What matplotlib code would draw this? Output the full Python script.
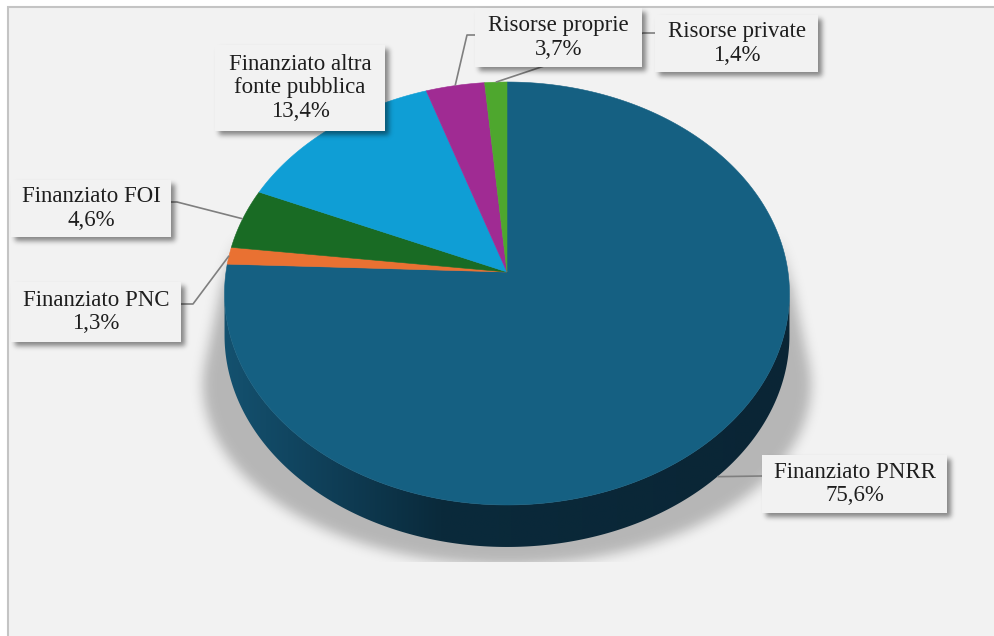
import numpy as np
import matplotlib
matplotlib.use("Agg")
import matplotlib.pyplot as plt
from matplotlib.patches import Polygon, Rectangle

# ---------------- data ----------------
labels = ["Finanziato PNRR", "Finanziato PNC", "Finanziato FOI",
          "Finanziato altra\nfonte pubblica", "Risorse proprie", "Risorse private"]
values = [75.6, 1.3, 4.6, 13.4, 3.7, 1.4]
colors = ["#156082", "#E97132", "#196B24", "#0F9ED5", "#A02B93", "#4EA72E"]

# ---------------- layout ----------------
W, H = 994, 636
fig = plt.figure(figsize=(W / 100, H / 100), dpi=100, facecolor="white")
ax = fig.add_axes([0, 0, 1, 1])
ax.set_xlim(0, W)
ax.set_ylim(H, 0)
ax.axis("off")

# chart area frame
ax.add_patch(Rectangle((8, 7), 1010, 650, facecolor="#f2f2f2",
                       edgecolor="#c4c4c4", lw=1.5, zorder=0))

# perspective projection of the pie disc
CX, CY, A, B, E = 507.0, 272.0, 281.0, 209.3, 0.1016
DEPTH = 42.0


def proj(theta_deg, r=1.0):
    t = np.radians(theta_deg)
    u, v = r * np.cos(t), r * np.sin(t)
    den = 1 + E * v
    return CX + A * u / den, CY - B * v / den


yy, xx = np.mgrid[0:H, 0:W] + 0.5


def blur(img, sigma):
    ky = np.fft.fftfreq(img.shape[0])
    kx = np.fft.rfftfreq(img.shape[1])
    G = np.exp(-2 * (np.pi * sigma) ** 2 * (ky[:, None] ** 2 + kx[None, :] ** 2))
    return np.fft.irfft2(np.fft.rfft2(img) * G, s=img.shape)


# ---- pie drop shadow ----
mask = np.zeros((H, W), bool)
for t in np.linspace(0, 1, 50):
    cyt = 290 + t * (385 - 290)
    rxt = 282.5 + t * (304 - 282.5)
    ryt = 211.5 + t * (180 - 211.5)
    mask |= ((xx - 507) / rxt) ** 2 + ((yy - cyt) / ryt) ** 2 <= 1
alpha = blur(mask.astype(float), 6) * 0.25
alpha *= np.clip((yy - 230) / 60, 0, 1)
alpha[yy > 562] = 0
sh = np.zeros((H, W, 4))
sh[..., 3] = np.clip(alpha, 0, 1)
ax.imshow(sh, extent=[0, W, H, 0], zorder=1, interpolation="nearest", aspect="auto")

# ---- side of the cylinder ----
th1 = 180 + np.degrees(np.arcsin(E))
th2 = 360 - np.degrees(np.arcsin(E))
ts = np.linspace(th1, th2, 300)
tx, ty = proj(ts)
side_pts = np.vstack([np.column_stack([tx, ty]),
                      np.column_stack([tx[::-1], ty[::-1] + DEPTH])])
side_patch = Polygon(side_pts, closed=True, facecolor="none", edgecolor="none", zorder=2)
ax.add_patch(side_patch)
gx = np.linspace(220, 795, 400)
stops_x = [220, 310, 440, 795]
stops_c = np.array([[0x14, 0x52, 0x70], [0x10, 0x42, 0x5c], [0x0a, 0x2a, 0x3b], [0x0a, 0x25, 0x35]]) / 255
grad = np.stack([np.interp(gx, stops_x, stops_c[:, k]) for k in range(3)], axis=-1)
grad = np.repeat(grad[None, :, :], 2, axis=0)
im = ax.imshow(grad, extent=[220, 795, 570, 280], zorder=2, aspect="auto", interpolation="bilinear")
im.set_clip_path(side_patch)

# ---- top slices ----
start = 90.0
mids = []
for val, col in zip(values, colors):
    span = 360.0 * val / sum(values)
    ang = np.linspace(start, start - span, max(int(span * 2), 4))
    ax_, ay_ = proj(ang)
    pts = np.vstack([[CX, CY], np.column_stack([ax_, ay_])])
    ax.add_patch(Polygon(pts, closed=True, facecolor=col, edgecolor=col, lw=0.4, zorder=3))
    mids.append(start - span / 2)
    start -= span

# ---- labels ----
boxes = [  # x0, y0, x1, y1
    (762, 455, 947, 513),
    (11, 282, 181, 342),
    (11, 180, 171, 237),
    (215, 45, 385, 131),
    (475, 8, 642, 67),
    (655, 15, 818, 72),
]
elbows = [
    [(762, 476)],
    [(181, 304), (193, 304)],
    [(171, 202), (177, 202)],
    None,
    [(475, 35), (467, 35)],
    [(655, 33), (643, 33)],
]

bmask = np.zeros((H, W))
for (x0, y0, x1, y1) in boxes:
    bmask[(xx >= x0 + 4) & (xx <= x1 + 4) & (yy >= y0 + 4) & (yy <= y1 + 4)] = 1
balpha = blur(bmask, 2.5) * 0.45
bsh = np.zeros((H, W, 4))
bsh[..., 3] = np.clip(balpha, 0, 1)
ax.imshow(bsh, extent=[0, W, H, 0], zorder=4.5, interpolation="nearest", aspect="auto")

for i, (lab, val) in enumerate(zip(labels, values)):
    x0, y0, x1, y1 = boxes[i]
    ax.add_patch(Rectangle((x0, y0), x1 - x0, y1 - y0, facecolor="#f2f2f2",
                           edgecolor="none", zorder=5))
    txt = f"{lab}\n{val:.1f}%".replace(".", ",")
    ax.text((x0 + x1) / 2, (y0 + y1) / 2, txt, ha="center", va="center",
            multialignment="center", fontsize=16.5, family="Liberation Serif",
            color="#1e1e1e", linespacing=1.15, zorder=6)
    if elbows[i] is not None:
        mx, my = proj(mids[i])
        if i == 0:
            my = my + DEPTH
        pts = elbows[i] + [(mx, my)]
        ax.plot([p[0] for p in pts], [p[1] for p in pts], color="#7f7f7f",
                lw=1.2, zorder=4, solid_capstyle="butt")

fig.savefig("out.png", dpi=100, facecolor="white")
